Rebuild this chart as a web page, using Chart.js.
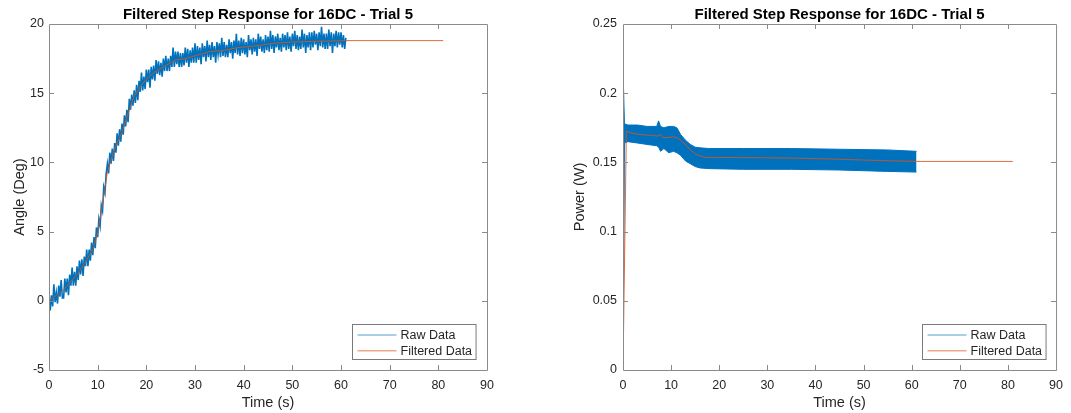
<!DOCTYPE html>
<html>
<head>
<meta charset="utf-8">
<script src="https://cdn.jsdelivr.net/npm/chart.js@4.4.1/dist/chart.umd.min.js"></script>
<style>
  html, body { margin: 0; padding: 0; background: #fff; }
  #wrap { position: relative; width: 1071px; height: 413px; }
  .panel { position: absolute; top: 0; width: 535px; height: 413px; }
</style>
</head>
<body>
<div id="wrap">
  <div class="panel" style="left:0"><canvas id="graficaAngulo"></canvas></div>
  <div class="panel" style="left:536px"><canvas id="graficaPotencia"></canvas></div>
</div>
<script>
// ---- datos ----
const titulo = 'Filtered Step Response for 16DC - Trial 5';
const etiquetas = ['Raw Data', 'Filtered Data'];
const xTicks = [0, 10, 20, 30, 40, 50, 60, 70, 80, 90];
const anguloTicks = [-5, 0, 5, 10, 15, 20];
const potenciaTicks = [0, 0.05, 0.1, 0.15, 0.2, 0.25];

// angulo crudo, una muestra cada 0.25 s (0 .. 61 s)
const pasoCrudo = 0.25;
const anguloCrudo = [
  0.5, -0.7, 0.4, -0.4, 1.2, -0.1, 0.6, -0.2, 1.1, 0.3, 1.5, 0.2,
  0.2, 1.6, 0.6, 1.6, 0.4, 1.9, 1.1, 2.4, 1.1, 2.1, 1.1, 2.5,
  1.5, 2.9, 1.9, 3.0, 1.8, 3.2, 2.5, 3.7, 2.5, 3.7, 2.9, 4.2,
  3.3, 4.6, 3.8, 5.3, 4.6, 5.9, 5.4, 6.9, 6.5, 8.2, 7.8, 9.2,
  9.9, 9.2, 10.7, 9.9, 11.0, 10.1, 11.4, 10.7, 12.1, 11.2, 12.4, 11.5,
  12.8, 12.0, 13.4, 12.6, 13.8, 12.9, 14.6, 13.8, 14.9, 14.1, 15.2, 14.3,
  15.6, 14.5, 15.9, 15.1, 16.5, 15.2, 16.2, 15.3, 16.7, 15.8, 16.7, 15.4,
  16.9, 16.0, 17.0, 15.9, 17.4, 16.4, 17.3, 16.3, 17.2, 16.2, 17.5, 16.6,
  17.7, 16.6, 17.5, 16.6, 17.7, 16.9, 18.3, 16.9, 18.0, 17.1, 18.0, 16.9,
  17.9, 16.9, 17.9, 17.0, 18.3, 17.2, 18.2, 16.9, 18.1, 17.2, 18.3, 17.2,
  18.6, 17.2, 18.4, 17.4, 18.3, 17.1, 18.6, 17.6, 18.4, 17.3, 18.8, 17.6,
  18.5, 17.4, 18.7, 17.6, 18.4, 17.2, 18.7, 17.8, 18.6, 17.6, 19.0, 17.7,
  18.7, 17.6, 18.5, 17.6, 18.9, 17.9, 18.7, 17.5, 18.8, 17.9, 19.3, 17.8,
  18.8, 17.7, 19.0, 17.9, 18.9, 17.8, 18.7, 17.6, 19.2, 18.1, 18.9, 17.8,
  19.0, 18.0, 18.9, 17.7, 19.3, 18.2, 19.1, 18.0, 18.9, 17.9, 19.2, 18.1,
  19.1, 18.0, 19.5, 18.2, 19.2, 17.9, 19.1, 18.3, 19.3, 18.1, 19.0, 18.0,
  19.3, 18.3, 19.2, 18.1, 19.4, 18.2, 19.1, 18.0, 19.3, 18.4, 19.5, 18.2,
  19.2, 18.1, 19.1, 18.2, 19.6, 18.3, 19.3, 17.9, 19.2, 18.3, 19.4, 18.1,
  19.4, 18.3, 19.5, 18.5, 19.3, 18.1, 19.4, 18.4, 19.8, 18.3, 19.3, 18.2,
  19.3, 18.2, 19.6, 18.4, 19.4, 17.9, 19.3, 18.4, 19.5, 18.3, 19.4, 18.5,
  19.4, 18.3, 19.2, 18.2, 19.0
];

// angulo filtrado
const anguloFiltT = [0, 1.5, 3, 4.5, 6, 7.5, 9, 10, 11, 12, 12.6, 13.5, 15, 16.5, 17.5, 19, 20.5, 22, 24, 26, 28, 30, 33, 36, 39, 42, 46, 50, 55, 61, 81];
const anguloFilt = [0, 0.4, 0.8, 1.4, 2.0, 2.8, 3.7, 4.9, 7.0, 9.3, 10.0, 11.0, 12.2, 13.8, 14.8, 15.6, 16.2, 16.6, 17.0, 17.4, 17.5, 17.7, 18.0, 18.1, 18.3, 18.4, 18.6, 18.7, 18.75, 18.8, 18.8];

// potencia cruda: envolvente superior e inferior de la banda
const potenciaT = [0, 0.1, 0.3, 1, 3, 5, 7, 7.4, 7.8, 8.5, 9.5, 10.5, 11.2, 12, 13, 14, 15, 16, 18, 25, 35, 45, 55, 61];
const potenciaSup = [0, 0.205, 0.178, 0.177, 0.177, 0.176, 0.176, 0.180, 0.176, 0.175, 0.176, 0.176, 0.175, 0.170, 0.166, 0.163, 0.161, 0.1605, 0.160, 0.160, 0.160, 0.1595, 0.159, 0.158];
const potenciaInf = [0, 0.0, 0.164, 0.165, 0.164, 0.163, 0.162, 0.161, 0.158, 0.160, 0.157, 0.158, 0.157, 0.155, 0.151, 0.149, 0.147, 0.146, 0.1455, 0.145, 0.145, 0.1445, 0.1435, 0.143];

// potencia filtrada
const potenciaFiltT = [0, 0.7, 2, 4, 6, 7.3, 7.7, 8.3, 9.5, 10.5, 11.2, 12, 13.1, 14, 15.2, 16.2, 17.2, 25, 36, 43, 50, 55, 61, 81];
const potenciaFilt = [0, 0.1725, 0.171, 0.170, 0.1695, 0.169, 0.1705, 0.168, 0.168, 0.1685, 0.168, 0.166, 0.1625, 0.159, 0.1558, 0.1545, 0.1536, 0.1535, 0.1531, 0.1525, 0.1517, 0.1512, 0.1507, 0.1507];

// ---- estilo ----
const azul = '#0072BD';
const naranja = 'rgba(217,83,25,0.85)';
const coloresLeyenda = ['rgba(0,114,189,0.45)', 'rgba(217,83,25,0.5)'];
const gris = '#8a8a8a';
const texto = '#262626';
Chart.defaults.font.family = "'Liberation Sans', Arial, sans-serif";
Chart.defaults.color = texto;

function puntos(xs, ys) {
  return ys.map((v, i) => ({ x: xs[i], y: v }));
}

// ejes tipo MATLAB: caja completa, marcas hacia dentro y leyenda con borde
const ejesMatlab = {
  id: 'ejesMatlab',
  afterDraw(chart, args, opts) {
    const { ctx, chartArea: a } = chart;
    const sx = chart.scales.x, sy = chart.scales.y;
    ctx.save();
    ctx.strokeStyle = gris;
    ctx.lineWidth = 1;
    ctx.beginPath();
    ctx.rect(a.left + 0.5, a.top + 0.5, a.right - a.left, a.bottom - a.top);
    sx.ticks.forEach(t => {
      const px = Math.round(sx.getPixelForValue(t.value)) + 0.5;
      if (px <= a.left + 1 || px >= a.right - 1) return;
      ctx.moveTo(px, a.bottom); ctx.lineTo(px, a.bottom - 5);
      ctx.moveTo(px, a.top); ctx.lineTo(px, a.top + 5);
    });
    sy.ticks.forEach(t => {
      const py = Math.round(sy.getPixelForValue(t.value)) + 0.5;
      if (py <= a.top + 1 || py >= a.bottom - 1) return;
      ctx.moveTo(a.left, py); ctx.lineTo(a.left + 5, py);
      ctx.moveTo(a.right, py); ctx.lineTo(a.right - 5, py);
    });
    ctx.stroke();

    // leyenda
    ctx.font = "12.5px 'Liberation Sans', Arial, sans-serif";
    const ancho = 48 + Math.max(...etiquetas.map(e => ctx.measureText(e).width)) + 4;
    const alto = 35;
    const bx = Math.round(a.right - opts.margen - ancho) + 0.5;
    const by = Math.round(a.bottom - 11 - alto) + 0.5;
    ctx.fillStyle = '#fff';
    ctx.fillRect(bx, by, ancho, alto);
    ctx.strokeStyle = '#7a7a7a';
    ctx.strokeRect(bx, by, ancho, alto);
    etiquetas.forEach((e, i) => {
      const ly = by + 10.5 + i * 15.7;
      ctx.strokeStyle = coloresLeyenda[i];
      ctx.lineWidth = 1.5;
      ctx.beginPath();
      ctx.moveTo(bx + 5, ly); ctx.lineTo(bx + 44, ly);
      ctx.stroke();
      ctx.fillStyle = texto;
      ctx.textBaseline = 'middle';
      ctx.fillText(e, bx + 48, ly + 0.5);
    });
    ctx.restore();
  }
};

function opcionesEjes(yMin, yMax, yPaso, yTitulo, anchoY, padTituloY, padTicksY, fmt) {
  return {
    x: {
      type: 'linear', min: 0, max: 90,
      afterBuildTicks: s => { s.ticks = xTicks.map(v => ({ value: v })); },
      afterFit: s => { s.height = 43; },
      grid: { display: false, drawTicks: false },
      border: { display: false },
      ticks: { font: { size: 12.5 }, padding: 8, maxRotation: 0, color: texto },
      title: { display: true, text: 'Time (s)', font: { size: 14.5 }, padding: { top: 0, bottom: 1 }, color: texto }
    },
    y: {
      type: 'linear', min: yMin, max: yMax,
      afterBuildTicks: s => { s.ticks = yPaso.map(v => ({ value: v })); },
      afterFit: s => { s.width = anchoY; },
      grid: { display: false, drawTicks: false },
      border: { display: false },
      ticks: { font: { size: 12.5 }, padding: padTicksY, color: texto, callback: fmt },
      title: { display: true, text: yTitulo, font: { size: 14.5 }, padding: { top: padTituloY, bottom: 0 }, color: texto }
    }
  };
}

const pluginsComunes = {
  legend: { display: false },
  tooltip: { enabled: false },
  title: {
    display: true, text: titulo, fullSize: false, color: '#000',
    font: { size: 15, weight: 'bold' }, padding: { top: 6, bottom: 0 }
  }
};

new Chart(document.getElementById('graficaAngulo').getContext('2d'), {
  type: 'line',
  data: {
    datasets: [
      {
        label: etiquetas[1],
        data: puntos(anguloFiltT, anguloFilt),
        borderColor: naranja, borderWidth: 1, pointRadius: 0, tension: 0, fill: false, order: 0
      },
      {
        label: etiquetas[0],
        data: anguloCrudo.map((v, i) => ({ x: i * pasoCrudo, y: v })),
        borderColor: azul, borderWidth: 1.6, pointRadius: 0, tension: 0, fill: false, order: 1
      }
    ]
  },
  options: {
    responsive: true,
    maintainAspectRatio: false,
    animation: false,
    layout: { padding: { left: 0, right: 48, top: 0, bottom: 0 } },
    scales: opcionesEjes(-5, 20, anguloTicks, 'Angle (Deg)', 49, 11, 5, v => String(v)),
    plugins: Object.assign({}, pluginsComunes, { ejesMatlab: { margen: 11 } })
  },
  plugins: [ejesMatlab]
});

new Chart(document.getElementById('graficaPotencia').getContext('2d'), {
  type: 'line',
  data: {
    datasets: [
      {
        label: etiquetas[1],
        data: puntos(potenciaFiltT, potenciaFilt),
        borderColor: naranja, borderWidth: 1, pointRadius: 0, tension: 0, fill: false, order: 0
      },
      {
        label: etiquetas[0],
        data: puntos(potenciaT, potenciaSup),
        borderColor: azul, backgroundColor: azul, borderWidth: 1, pointRadius: 0, tension: 0, fill: '+1', order: 1
      },
      {
        label: etiquetas[0] + ' (inf)',
        data: puntos(potenciaT, potenciaInf),
        borderColor: azul, borderWidth: 1, pointRadius: 0, tension: 0, fill: false, order: 2
      }
    ]
  },
  options: {
    responsive: true,
    maintainAspectRatio: false,
    animation: false,
    layout: { padding: { left: 0, right: 9, top: 0, bottom: 0 } },
    scales: opcionesEjes(0, 0.25, potenciaTicks, 'Power (W)', 87, 35, 6, v => String(+v.toFixed(2))),
    plugins: Object.assign({}, pluginsComunes, { ejesMatlab: { margen: 10 } })
  },
  plugins: [ejesMatlab]
});
</script>
</body>
</html>
